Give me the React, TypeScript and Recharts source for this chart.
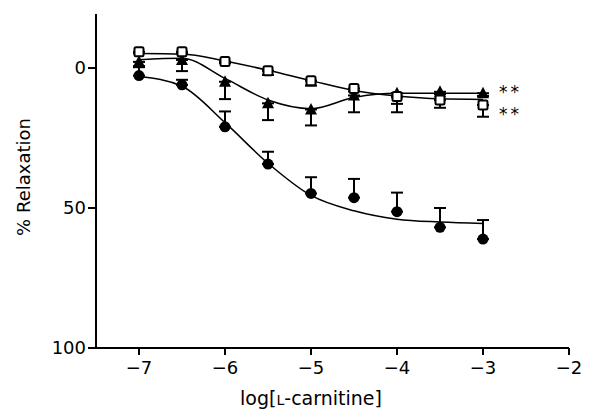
import {
  ComposedChart,
  Line,
  Scatter,
  XAxis,
  YAxis,
  ErrorBar,
  ReferenceDot,
} from "recharts";

/* ================= DATA ================= */

const doses = [-7, -6.5, -6, -5.5, -5, -4.5, -4, -3.5, -3];

// mean % relaxation and SEM for each group
const circleMean = [2.7, 6, 21, 34.3, 44.8, 46.3, 51.3, 56.9, 61.1];
const circleSem = [3, 1.8, 5.5, 4.4, 5.8, 6.7, 6.8, 6.9, 6.8];
const triangleMean = [-2.2, -2.9, 4.9, 12.6, 14.8, 9.8, 9, 8.5, 9];
const triangleSem = [1.5, 4, 6.2, 6, 5.7, 6, 6.8, 0.8, 1];
const squareMean = [-5.8, -5.8, -2.3, 1, 4.5, 7.3, 10.2, 11.4, 13.2];
const squareSem = [0.5, 0.5, 0.5, 1.5, 1.8, 1, 2.6, 2.8, 4.2];

// fitted curves
const circleFit = [3, 6.5, 19.5, 34, 45.5, 51, 54, 55, 55.5];
const triangleFit = [-3, -3.5, 3.7, 11.4, 14.5, 10.5, 9, 9, 9];
const squareFit = [-5.2, -5, -2.5, 0.8, 4.5, 8, 10, 11, 11.2];

const xTicks = [-7, -6, -5, -4, -3, -2];
const yTicks = [0, 50, 100];

/* ================= BUILD ================= */

const points = (mean: number[], sem: number[], up: boolean) =>
  doses.map((x, i) => ({
    x,
    y: mean[i],
    err: up ? [sem[i], 0] : [0, sem[i]],
  }));

const curve = (vals: number[]) => doses.map((x, i) => ({ x, y: vals[i] }));

const circles = points(circleMean, circleSem, true);
const triangles = points(triangleMean, triangleSem, false);
const squares = points(squareMean, squareSem, false);

/* ================= SHAPES ================= */

const Dot = (p: any) => <circle cx={p.cx} cy={p.cy} r={5.5} fill="#000" />;

const Tri = (p: any) => (
  <polygon
    points={`${p.cx},${p.cy - 6.5} ${p.cx - 6},${p.cy + 5} ${p.cx + 6},${p.cy + 5}`}
    fill="#000"
  />
);

const Box = (p: any) => (
  <rect
    x={p.cx - 4.5}
    y={p.cy - 4.5}
    width={9}
    height={9}
    rx={1.5}
    fill="#fff"
    stroke="#000"
    strokeWidth={2}
  />
);

const XLabel = () => (
  <text x={311} y={405} textAnchor="middle" fontSize={19} fill="#000">
    log[<tspan fontSize={14}>L</tspan>-carnitine]
  </text>
);

const YLabel = () => (
  <text
    x={30}
    y={177}
    textAnchor="middle"
    fontSize={18}
    fill="#000"
    transform="rotate(-90 30 177)"
  >
    % Relaxation
  </text>
);

const minus = (v: number) => String(v).replace("-", "\u2212");

const stars = { value: "**", position: "right" as const, offset: 16, fontSize: 17, fill: "#000", letterSpacing: 3 };

export default function App() {
  return (
    <div style={wrap}>
      <ComposedChart
        width={594}
        height={410}
        margin={{ top: 14, right: 25, bottom: 0, left: 0 }}
      >
        <XAxis
          dataKey="x"
          type="number"
          domain={[-7.5, -2]}
          ticks={xTicks}
          allowDataOverflow
          height={62}
          tickFormatter={minus}
          stroke="#000"
          strokeWidth={2}
          tickSize={7}
          tickMargin={6}
          tick={{ fill: "#000", fontSize: 18 }}
          label={<XLabel />}
        />
        <YAxis
          dataKey="y"
          type="number"
          domain={[-19.3, 100]}
          reversed
          ticks={yTicks}
          allowDataOverflow
          width={96}
          stroke="#000"
          strokeWidth={2}
          tickSize={8}
          tickMargin={2}
          tick={{ fill: "#000", fontSize: 18 }}
          label={<YLabel />}
        />

        <Line data={curve(circleFit)} dataKey="y" type="monotone" stroke="#000" strokeWidth={1.5} dot={false} isAnimationActive={false} />
        <Line data={curve(triangleFit)} dataKey="y" type="monotone" stroke="#000" strokeWidth={1.5} dot={false} isAnimationActive={false} />
        <Line data={curve(squareFit)} dataKey="y" type="monotone" stroke="#000" strokeWidth={1.5} dot={false} isAnimationActive={false} />

        <Scatter data={circles} dataKey="y" shape={Dot} isAnimationActive={false}>
          <ErrorBar dataKey="err" direction="y" width={6} stroke="#000" strokeWidth={2} isAnimationActive={false} />
        </Scatter>
        <Scatter data={triangles} dataKey="y" shape={Tri} isAnimationActive={false}>
          <ErrorBar dataKey="err" direction="y" width={6} stroke="#000" strokeWidth={2} isAnimationActive={false} />
        </Scatter>
        <Scatter data={squares} dataKey="y" shape={Box} isAnimationActive={false}>
          <ErrorBar dataKey="err" direction="y" width={6} stroke="#000" strokeWidth={2} isAnimationActive={false} />
        </Scatter>

        <ReferenceDot x={-3} y={8.6} r={0} fill="none" stroke="none" label={stars} />
        <ReferenceDot x={-3} y={16.3} r={0} fill="none" stroke="none" label={stars} />
      </ComposedChart>
    </div>
  );
}

/* ================= STYLES ================= */

const wrap = {
  position: "absolute" as const,
  left: 0,
  top: 0,
  width: 594,
  height: 410,
  background: "#fff",
  fontFamily: "'DejaVu Sans', sans-serif",
};
